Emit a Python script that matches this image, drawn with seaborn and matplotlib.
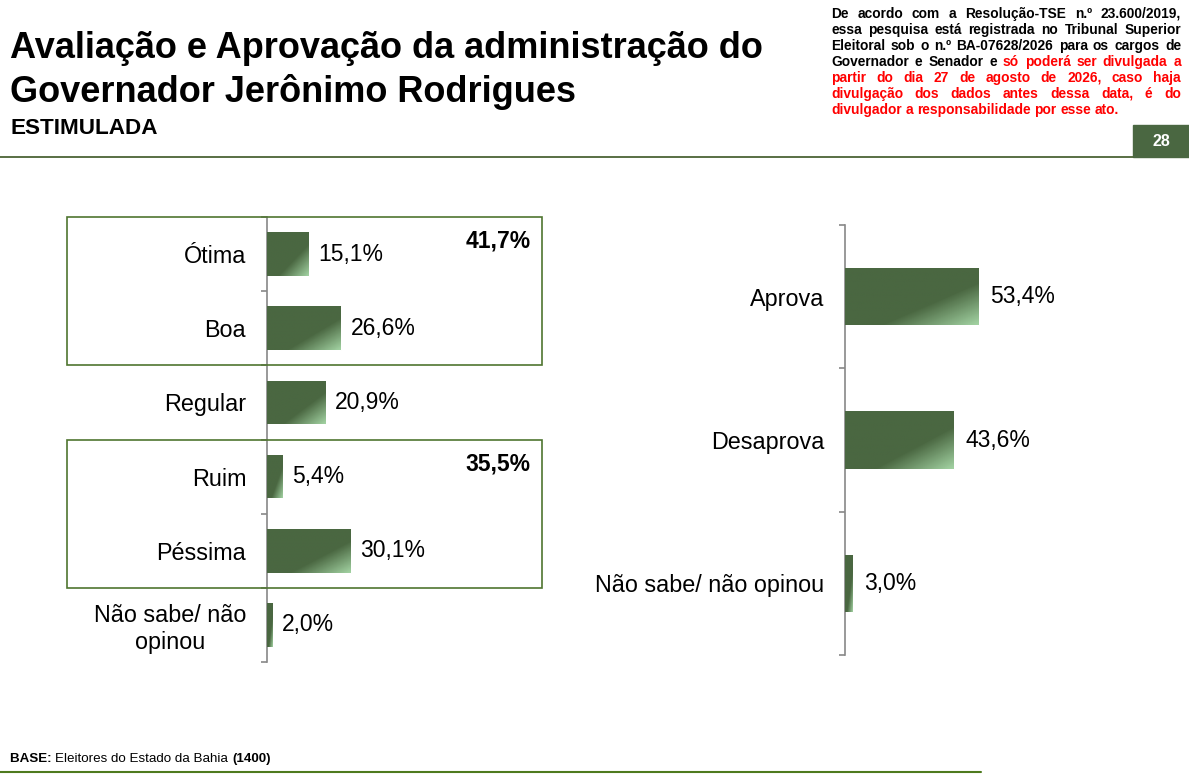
import numpy as np
import pandas as pd
import matplotlib.pyplot as plt
from matplotlib import font_manager as fm
from matplotlib.colors import LinearSegmentedColormap
from matplotlib.patches import Rectangle
import seaborn as sns

# data
aval_cats = ["Ótima", "Boa", "Regular", "Ruim", "Péssima", "Não sabe/ não\nopinou"]
aval_vals = [15.1, 26.6, 20.9, 5.4, 30.1, 2.0]
aval_groups = [(0, 1, "41,7%"), (3, 4, "35,5%")]

aprov_cats = ["Aprova", "Desaprova", "Não sabe/ não opinou"]
aprov_vals = [53.4, 43.6, 3.0]

W, H = 1189, 781
BAR = "#4a6741"
LIGHT = "#a2d2a2"
BOXC = "#4f7530"
AXC = "#888888"

# drop the narrow variant so "Liberation Sans" resolves to the regular width
fm.fontManager.ttflist = [f for f in fm.fontManager.ttflist
                          if "narrow" not in f.fname.lower()]
if hasattr(fm.fontManager, "_findfont_cached"):
    fm.fontManager._findfont_cached.cache_clear()

sns.set_style("white")
plt.rcParams["font.family"] = ["Liberation Sans", "DejaVu Sans"]
plt.rcParams["text.color"] = "black"
plt.rcParams["ytick.labelcolor"] = "black"
plt.rcParams["ytick.color"] = AXC

fig = plt.figure(figsize=(W / 100, H / 100), dpi=100)
renderer = fig.canvas.get_renderer()


def px(x):
    return x / W


def py(y):
    return 1 - y / H


cmap = LinearSegmentedColormap.from_list("g", [(0, BAR), (0.64, BAR), (1, LIGHT)])


def gradient_bars(ax):
    xl, yl = ax.get_xlim(), ax.get_ylim()
    u, v = np.meshgrid(np.linspace(0, 1, 60), np.linspace(0, 1, 60))
    grad = (u + v) / 2
    for p in ax.patches:
        x0, y0 = p.get_x(), p.get_y()
        x1, y1 = x0 + p.get_width(), y0 + p.get_height()
        im = ax.imshow(grad, cmap=cmap, vmin=0, vmax=1, extent=[x0, x1, y1, y0],
                       origin="upper", aspect="auto", zorder=3)
        im.set_clip_path(p)
    ax.set_xlim(xl)
    ax.set_ylim(yl)


def style_axis(ax, n):
    sns.despine(ax=ax, bottom=True)
    ax.spines["left"].set_color(AXC)
    ax.spines["left"].set_linewidth(1.2)
    ax.set_xlim(0, 100)
    ax.set_ylim(n - 0.5, -0.5)
    ax.set_xticks([])
    ax.set_xlabel("")
    ax.set_ylabel("")
    ax.set_yticks(np.arange(-0.5, n), minor=True)
    ax.tick_params(axis="y", which="major", length=0, pad=15, labelsize=16.8,
                   labelcolor="black")
    ax.tick_params(axis="y", which="minor", length=4.5, width=1.2, color=AXC,
                   direction="out", left=True)
    for t in ax.get_yticklabels():
        t.set_multialignment("center")
    ax.patch.set_alpha(0)


def pct(v):
    return f"{v:.1f}%".replace(".", ",")


# left chart: avaliacao
ax1 = fig.add_axes([px(267), py(662), px(278), 445 / H])
df1 = pd.DataFrame({"cat": aval_cats, "val": aval_vals})
sns.barplot(data=df1, y="cat", x="val", order=aval_cats, color=BAR, width=0.59,
            saturation=1, ax=ax1)
style_axis(ax1, len(aval_cats))
ax1.bar_label(ax1.containers[0], labels=[pct(v) for v in aval_vals], padding=7,
              fontsize=16.5)
gradient_bars(ax1)

for a, b, total in aval_groups:
    x0 = -200 / 2.78
    x1 = 275 / 2.78
    ax1.add_patch(Rectangle((x0, a - 0.5), x1 - x0, b - a + 1, fill=False,
                            edgecolor=BOXC, linewidth=1.2, clip_on=False, zorder=5))
    ax1.text(x1 - 4, a - 0.5 + 0.17, total, ha="right", va="top", fontsize=16.5,
             fontweight="bold")

# right chart: aprovacao
ax2 = fig.add_axes([px(845), py(655), px(250), 430 / H])
df2 = pd.DataFrame({"cat": aprov_cats, "val": aprov_vals})
sns.barplot(data=df2, y="cat", x="val", order=aprov_cats, color=BAR, width=0.4,
            saturation=1, ax=ax2)
style_axis(ax2, len(aprov_cats))
ax2.bar_label(ax2.containers[0], labels=[pct(v) for v in aprov_vals], padding=8,
              fontsize=16.5)
gradient_bars(ax2)

# header
fig.text(px(10), py(58), "Avaliação e Aprovação da administração do", fontsize=26,
         fontweight="bold", va="baseline", ha="left")
fig.text(px(10), py(102), "Governador Jerônimo Rodrigues", fontsize=26,
         fontweight="bold", va="baseline", ha="left")
fig.text(px(10), py(134), "ESTIMULADA", fontsize=16.2, fontweight="bold",
         va="baseline", ha="left")
fig.add_artist(plt.Line2D([0, px(1133)], [py(157), py(157)], color="#4b6335",
                          linewidth=1.3))
fig.add_artist(Rectangle((px(1133), py(157)), px(56), 32 / H, color=BAR,
                         transform=fig.transFigure))
fig.text(px(1161), py(141), "28", color="white", fontsize=11.5, fontweight="bold",
         ha="center", va="center")

# disclaimer, justified
RED = "#ff0000"
disc = [
    [("De acordo com a Resolução-TSE n.º 23.600/2019,", "black")],
    [("essa pesquisa está registrada no Tribunal Superior", "black")],
    [("Eleitoral sob o n.º BA-07628/2026 para os cargos de", "black")],
    [("Governador e Senador e", "black"), ("só poderá ser divulgada a", RED)],
    [("partir do dia 27 de agosto de 2026, caso haja", RED)],
    [("divulgação dos dados antes dessa data, é do", RED)],
    [("divulgador a responsabilidade por esse ato.", RED)],
]
xl, xr = 831, 1181
for i, segs in enumerate(disc):
    y = py(18 + i * 16)
    words = [(w, c) for s, c in segs for w in s.split(" ")]
    objs = [fig.text(0, y, w, color=c, fontsize=9.9, fontweight="bold",
                     va="baseline") for w, c in words]
    widths = [o.get_window_extent(renderer).width for o in objs]
    if i == len(disc) - 1:
        gap = 3.8
    else:
        gap = (xr - xl - sum(widths)) / (len(objs) - 1)
    x = xl
    for o, w in zip(objs, widths):
        o.set_x(px(x))
        x += w + gap

# footer
x = 10
for s, wt in [("BASE: ", "bold"), ("Eleitores do Estado da Bahia ", "normal"),
              ("(1400)", "bold")]:
    t = fig.text(px(x), py(762), s, fontsize=9.6, fontweight=wt, va="baseline")
    x += t.get_window_extent(renderer).width
fig.add_artist(plt.Line2D([0, px(981)], [py(772), py(772)], color="#4e7a1e",
                          linewidth=1.5))

fig.savefig("out.png", dpi=100)
